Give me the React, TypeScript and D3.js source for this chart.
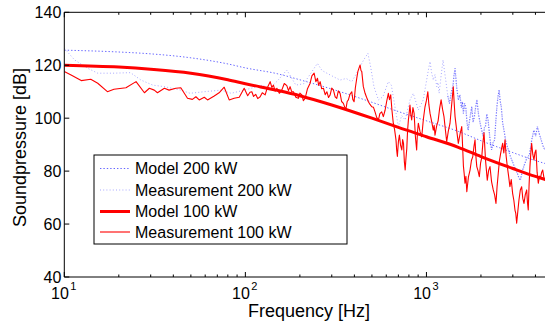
import React from "react";
import * as d3 from "d3";

// ---- data ----
const model200: [number, number][] = [
  [10, 125.7], [20, 125], [30, 124.3], [50, 122.8], [80, 120.5], [100, 119],
  [150, 116.8], [200, 114.5], [300, 111], [500, 106], [700, 102.5], [1000, 99],
  [1500, 95], [2000, 91.5], [3000, 87], [4000, 84], [5000, 82],
];

const model100: [number, number][] = [
  [10, 120], [20, 119.3], [30, 118.5], [50, 117], [80, 114.5], [100, 113],
  [150, 110.5], [200, 108.5], [300, 105], [500, 100], [700, 96.5], [1000, 93],
  [1500, 89], [2000, 85.5], [3000, 81], [4000, 78], [5000, 76],
];

const meas200: [number, number][] = [
  [10, 126.4], [11.4, 122], [13.5, 118.8], [15.3, 117], [18.8, 117], [23.2, 117.2],
  [26.5, 114.4], [30.8, 112.5], [35.7, 111.9], [44, 110.6], [49.5, 109.4], [59.3, 110],
  [73.3, 110.6], [83.5, 109.4], [98.5, 110.6], [110, 111.5], [125, 112.5], [135, 111],
  [150, 114], [169.4, 118.2], [190, 112.5], [210, 113], [230, 117], [250, 120.7],
  [265, 118], [281.9, 117], [310, 115.5], [333.5, 114.4], [360, 115], [387, 113.8],
  [412, 117], [450, 122], [475, 124.5], [492, 119.4], [513, 111.9], [543, 106.9],
  [575, 108.1], [616, 113.8], [640, 112.5], [670, 104.3], [700, 96.8], [730, 101],
  [763, 99.3], [811, 106.9], [846, 109.4], [902, 103.1], [960, 106.9], [1010, 115.7],
  [1030, 119], [1047, 121.4], [1068, 117.2], [1091, 114.4], [1115, 116.5], [1140, 111.9],
  [1158, 113.5], [1175, 109.4], [1205, 116], [1235, 122], [1260, 117.5], [1285, 113.2],
  [1312, 108.4], [1340, 105.6], [1370, 109.5], [1400, 112], [1420, 116.2], [1439, 118.8],
  [1470, 111.5], [1500, 106.9], [1530, 108.8], [1560, 104], [1580, 106.2], [1600, 101.8],
  [1625, 105.6], [1650, 104], [1675, 98.4], [1700, 95.5], [1740, 100.2], [1780, 104.3],
  [1810, 98.5], [1840, 100.6], [1870, 104.2], [1900, 106.9], [1940, 101.3], [1980, 98.1],
  [2020, 95.4], [2060, 93], [2090, 96.4], [2120, 97], [2155, 101.5], [2190, 99.3],
  [2240, 92.5], [2290, 88], [2335, 90.8], [2380, 91.8], [2415, 98.6], [2450, 104.3],
  [2485, 108.2], [2520, 110.6], [2555, 106.4], [2590, 104.3], [2635, 98.2], [2680, 95.5],
  [2740, 91.4], [2800, 89.2], [2855, 87.3], [2910, 85.5], [2985, 83.6], [3060, 81.7],
  [3120, 80.2], [3180, 79.2], [3240, 77.4], [3300, 76.6], [3400, 80.5], [3500, 83],
  [3600, 85.2], [3700, 86], [3810, 91.5], [3920, 95.5], [4010, 93.2], [4100, 96.8],
  [4200, 94.1], [4300, 91.8], [4400, 89.6], [4511, 88],
];

const meas100: [number, number][] = [
  [10, 117.6], [10.9, 116.3], [12.4, 114.2], [14, 114.7], [15.3, 113.2], [17.3, 110],
  [18.8, 110.9], [21.9, 111.5], [24.9, 113.8], [27.7, 109.6], [29.5, 111.3], [31.4, 110.6],
  [32.7, 109.6], [35.7, 111.3], [37.9, 110.6], [41.3, 111.3], [44, 111.5], [47.9, 107.5],
  [51, 107.1], [53.3, 108.1], [55.6, 106.9], [59.3, 107.9], [61.8, 106.9], [67.3, 108.4],
  [71.6, 109.6], [76.4, 111.7], [81.4, 106.9], [86.7, 107.5], [92.5, 107.9], [98.5, 111.3],
  [103, 108.5], [106, 109.8], [108.6, 110], [111, 108.2], [114, 109], [117, 107.4],
  [120.7, 108.1], [124, 109.6], [128.6, 108.8], [132, 111.4], [137.1, 113.8], [140, 111.6],
  [142.9, 112.5], [146, 110.2], [149.3, 111.3], [154, 109.4], [158.9, 110.6], [164, 113.1],
  [169.4, 112.3], [173, 110.4], [176.6, 111.9], [180, 110.1], [184.2, 110], [190, 107.9],
  [196.3, 107.5], [200, 109.5], [205, 108.8], [209, 106.6], [213.8, 107.5], [220, 111],
  [227.8, 113.2], [233, 116], [239.7, 117], [245, 113.8], [250.1, 115.1], [254, 112.4],
  [258.8, 113.8], [264, 111.1], [269.9, 111.3], [276, 108.9], [281.9, 110], [288, 107.8],
  [293.8, 108.8], [300, 111.4], [306.5, 110.6], [313, 108.1], [319.7, 107.5], [326, 110.3],
  [333.5, 109.4], [340, 106.3], [347.8, 105.6], [354, 104.1], [359.7, 103.7], [365, 106.3],
  [370.5, 106.9], [378, 109], [387, 110], [392, 107.1], [398.5, 106.2], [405, 111.5],
  [412.3, 115.1], [418, 117.6], [424.6, 119], [430.2, 120.1], [435, 118], [439.5, 117.6],
  [448, 112], [458.3, 109.4], [467, 107.9], [477.9, 106.2], [488, 105.2], [499, 104.3],
  [510, 104.1], [520, 102.4], [531, 100.3], [543, 99.3], [553, 101.7], [566, 102.4],
  [578, 100.6], [591, 103], [603, 106.3], [616, 109.4], [625, 107], [635, 108.8],
  [645, 103], [656, 98.1], [667, 95.7], [679, 91.8], [685, 87.9], [691, 85.5],
  [700, 91.1], [709, 93.6], [720, 89.7], [731, 88], [739, 91.9], [747, 90.5],
  [755, 83.7], [763, 80.4], [771, 85], [779, 88.6], [787, 95.5], [795, 99.3],
  [803, 102], [811, 105], [820, 101.3], [829, 99.3], [842, 104], [855, 101.8],
  [869, 93.1], [883, 88], [892, 94.7], [902, 98.1], [921, 95], [942, 93],
  [962, 99.7], [982, 104.3], [1000, 106.7], [1018, 110], [1032, 105], [1047, 101.8],
  [1069, 98.7], [1091, 95.5], [1103, 97.3], [1115, 93.6], [1138, 97], [1160, 99],
  [1183, 103.7], [1205, 106.9], [1228, 103.3], [1250, 100.6], [1272, 95.7], [1294, 91.1],
  [1320, 95], [1349, 98], [1378, 105.1], [1407, 111.9], [1423, 105.7], [1439, 100.6],
  [1470, 95.3], [1500, 90.5], [1533, 94], [1567, 96.8], [1585, 89], [1600, 82],
  [1617, 78.8], [1633, 75.4], [1652, 78], [1671, 72.2], [1705, 77.7], [1741, 80.4],
  [1772, 84], [1803, 85.5], [1830, 89.3], [1855, 91.8], [1875, 85.7], [1897, 81.7],
  [1928, 80.1], [1959, 77.9], [1990, 83], [2019, 85], [2050, 90.7], [2080, 94.5],
  [2120, 84.1], [2168, 76.6], [2205, 80.3], [2244, 81.7], [2290, 75.9], [2339, 72.9],
  [2380, 71], [2421, 67.8], [2455, 74.1], [2493, 79.2], [2530, 84], [2570, 86.7],
  [2600, 88.6], [2636, 90.5], [2675, 86.9], [2716, 91.8], [2755, 85.7], [2797, 81.7],
  [2845, 78], [2891, 74.1], [2940, 76.8], [2992, 71.6], [3040, 68.9], [3083, 65.3],
  [3115, 64], [3150, 60.3], [3195, 64.7], [3243, 69.1], [3300, 72.9], [3357, 74.1],
  [3405, 69.7], [3457, 67.8], [3515, 71.1], [3578, 72.9], [3612, 68.4], [3650, 65.3],
  [3690, 75], [3729, 81.7], [3770, 86.6], [3811, 90.5], [3868, 86.3], [3924, 84.2],
  [3975, 87], [4025, 88], [4085, 79.6], [4147, 75.4], [4210, 78.1], [4278, 77.9],
  [4330, 79.6], [4387, 80.4], [4450, 77.7], [4511, 76.6],
];

const yTicks = [40, 60, 80, 100, 120, 140];
const xMajor = [10, 100, 1000];
const xMinor = [20, 30, 40, 50, 60, 70, 80, 90, 200, 300, 400, 500, 600, 700, 800, 900, 2000, 3000, 4000, 5000];
const legendLabels = ["Model 200 kW", "Measurement 200 kW", "Model 100 kW", "Measurement 100 kW"];

const W = 545;
const H = 324;
const L = 64.3, R = 553, T = 12.3, B = 277;

export default function App() {
  const x = d3.scaleLog().domain([10, 5000]).range([L, R]);
  const y = d3.scaleLinear().domain([40, 140]).range([B, T]);
  const line = d3.line<[number, number]>().x((d) => x(d[0])).y((d) => y(d[1]));
  const smooth = d3.line<[number, number]>().x((d) => x(d[0])).y((d) => y(d[1])).curve(d3.curveMonotoneX);
  const font = "'Liberation Sans', Arial, Helvetica, sans-serif";

  const legendX = 94, legendY = 155, legendW = 253, legendH = 89;
  const rowY = [168.5, 190, 211.5, 232];

  const styles = [
    { stroke: "#0000ff", opacity: 0.6, width: 1, dash: "1.4,2" },
    { stroke: "#0000ff", opacity: 0.35, width: 1, dash: "1,2.2" },
    { stroke: "#ff0000", opacity: 1, width: 3, dash: undefined },
    { stroke: "#ff0000", opacity: 1, width: 1.1, dash: undefined },
  ];
  const meas200High = meas200.filter((d) => d[0] >= 1300);

  return (
    <svg width={W} height={H} style={{ position: "absolute", left: 0, top: 0, background: "#fff" }} fontFamily={font}>
      <defs>
        <clipPath id="plotclip">
          <rect x={L} y={T} width={R - L} height={B - T} />
        </clipPath>
      </defs>
      <rect x={0} y={0} width={W} height={H} fill="#fff" />
      <g clipPath="url(#plotclip)" fill="none">
        <path d={smooth(model200) || ""} stroke={styles[0].stroke} strokeOpacity={styles[0].opacity} strokeWidth={styles[0].width} strokeDasharray={styles[0].dash} />
        <path d={line(meas200) || ""} stroke={styles[1].stroke} strokeOpacity={styles[1].opacity} strokeWidth={styles[1].width} strokeDasharray={styles[1].dash} />
        <path d={line(meas200High) || ""} stroke="#0000ff" strokeOpacity={0.45} strokeWidth={1.3} strokeDasharray="1,1.5" />
        <path d={smooth(model100) || ""} stroke={styles[2].stroke} strokeWidth={styles[2].width} />
        <path d={line(meas100) || ""} stroke={styles[3].stroke} strokeWidth={styles[3].width} strokeLinejoin="round" />
      </g>
      {/* axes */}
      <g stroke="#000" strokeWidth={1}>
        <line x1={L} x2={R} y1={B} y2={B} />
        <line x1={L} x2={R} y1={T} y2={T} />
        <line x1={L} x2={L} y1={T} y2={B} />
        {yTicks.map((t) => (
          <line key={"yt" + t} x1={L} x2={L + 5} y1={y(t)} y2={y(t)} />
        ))}
        {xMajor.map((t) => (
          <g key={"xm" + t}>
            <line x1={x(t)} x2={x(t)} y1={B} y2={B - 5} />
            <line x1={x(t)} x2={x(t)} y1={T} y2={T + 5} />
          </g>
        ))}
        {xMinor.map((t) => (
          <g key={"xn" + t}>
            <line x1={x(t)} x2={x(t)} y1={B} y2={B - 2.5} />
            <line x1={x(t)} x2={x(t)} y1={T} y2={T + 2.5} />
          </g>
        ))}
      </g>
      {yTicks.map((t) => (
        <text key={"yl" + t} x={L - 3} y={y(t)} dy="0.36em" textAnchor="end" fontSize={16} fill="#000">
          {t}
        </text>
      ))}
      {xMajor.map((t) => (
        <g key={"xl" + t}>
          <text x={x(t) + 4.5} y={299} textAnchor="end" fontSize={16} fill="#000">10</text>
          <text x={x(t) + 6} y={290} fontSize={11} fill="#000">{Math.round(Math.log10(t))}</text>
        </g>
      ))}
      <text x={309} y={316.5} textAnchor="middle" fontSize={18} fill="#000">Frequency [Hz]</text>
      <text transform="translate(26,147.5) rotate(-90)" textAnchor="middle" fontSize={18} fill="#000">Soundpressure [dB]</text>
      {/* legend */}
      <rect x={legendX} y={legendY} width={legendW} height={legendH} fill="#fff" stroke="#000" strokeWidth={1} />
      {legendLabels.map((lab, i) => (
        <g key={lab}>
          <line x1={100} x2={130} y1={rowY[i]} y2={rowY[i]} stroke={styles[i].stroke} strokeOpacity={styles[i].opacity} strokeWidth={styles[i].width} strokeDasharray={styles[i].dash} />
          <text x={135} y={rowY[i]} dy="0.36em" fontSize={16} fill="#000">{lab}</text>
        </g>
      ))}
    </svg>
  );
}
